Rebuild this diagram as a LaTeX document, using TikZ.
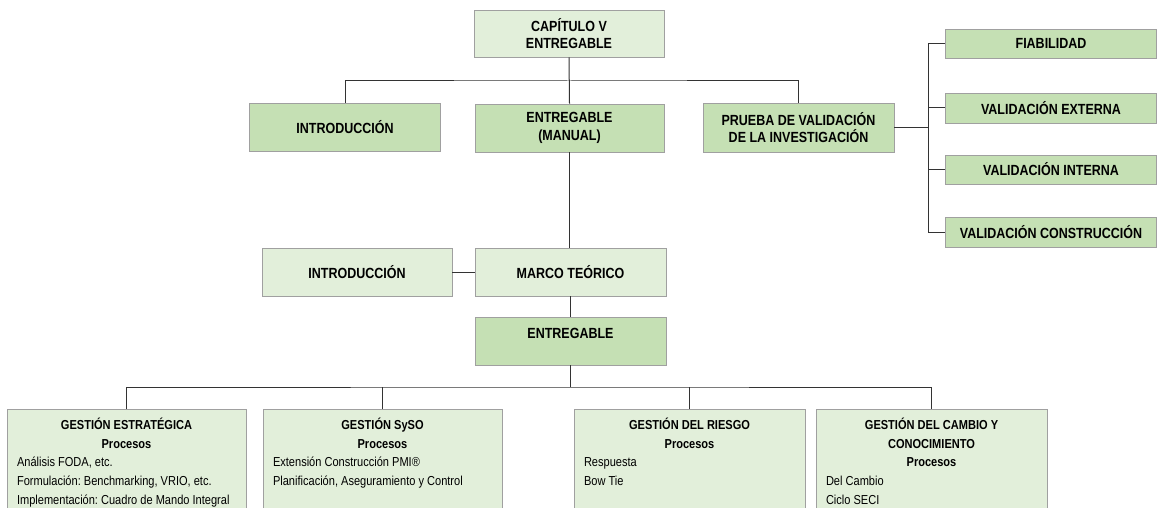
\documentclass[tikz,border=0pt]{standalone}
\usepackage{fontspec}
\setmainfont{Liberation Sans}[FakeStretch=0.85]
\frenchspacing
\definecolor{lightg}{HTML}{E2EFDA}
\definecolor{darkg}{HTML}{C5E0B4}
\definecolor{boxgray}{HTML}{A0A0A0}
\definecolor{linegray}{HTML}{333333}
\newcommand\gcontent[2]{\parbox[t][110pt][t]{#1}{\frenchspacing #2}}
\begin{document}
\begin{tikzpicture}[x=1pt,y=-1pt,
  base/.style={draw=boxgray, line width=0.8pt, inner sep=0pt, align=center,
    font=\bfseries\fontsize{14.7}{17.5}\selectfont},
  light/.style={base, fill=lightg},
  dark/.style={base, fill=darkg},
  conn/.style={draw=linegray, line width=1pt},
  gbox/.style={draw=boxgray, line width=0.8pt, fill=lightg, anchor=north,
    inner xsep=10pt, inner ysep=0pt, font=\fontsize{13}{18.7}\selectfont}
]
\clip (0,0) rectangle (1158,508);
\fill[white] (0,0) rectangle (1158,508);

% top level
\node[light, minimum width=190pt, minimum height=47pt] (cap) at (569,33.5) {CAPÍTULO V\\ENTREGABLE};
\node[dark, minimum width=191pt, minimum height=48pt] (intro1) at (345,127) {INTRODUCCIÓN};
\node[dark, minimum width=189pt, minimum height=48pt] (manual) at (569.5,128) {ENTREGABLE\\(MANUAL)};
\node[dark, minimum width=191pt, minimum height=49pt] (prueba) at (798.5,127.5) {PRUEBA DE VALIDACIÓN\\DE LA INVESTIGACIÓN};

% validation boxes
\node[dark, minimum width=211pt, minimum height=29pt] (fiab) at (1051,43.5) {FIABILIDAD};
\node[dark, minimum width=211pt, minimum height=30pt] (vext) at (1051,108) {VALIDACIÓN EXTERNA};
\node[dark, minimum width=211pt, minimum height=29pt] (vint) at (1051,169.5) {VALIDACIÓN INTERNA};
\node[dark, minimum width=211pt, minimum height=30pt] (vcon) at (1051,232) {VALIDACIÓN CONSTRUCCIÓN};

% middle
\node[light, minimum width=190pt, minimum height=48pt] (intro2) at (357,272) {INTRODUCCIÓN};
\node[light, minimum width=191pt, minimum height=48pt] (marco) at (570.5,272) {MARCO TEÓRICO};
\node[dark, minimum width=191pt, text height=21pt, text depth=27pt, inner ysep=0pt] (entreg) at (570.5,341) {ENTREGABLE};

% bottom boxes
\node[gbox] (g1) at (126.5,409) {\gcontent{219pt}{{\centering\bfseries\rule{0pt}{20pt}GESTIÓN ESTRATÉGICA\\Procesos\par}Análisis FODA, etc.\\Formulación: Benchmarking, VRIO, etc.\\Implementación: Cuadro de Mando Integral}};
\node[gbox] (g2) at (382.5,409) {\gcontent{219pt}{{\centering\bfseries\rule{0pt}{20pt}GESTIÓN SySO\\Procesos\par}Extensión Construcción PMI®\\Planificación, Aseguramiento y Control}};
\node[gbox] (g3) at (689.5,409) {\gcontent{211pt}{{\centering\bfseries\rule{0pt}{20pt}GESTIÓN DEL RIESGO\\Procesos\par}Respuesta\\Bow Tie}};
\node[gbox] (g4) at (931.5,409) {\gcontent{211pt}{{\centering\bfseries\rule{0pt}{20pt}GESTIÓN DEL CAMBIO Y\\CONOCIMIENTO\\Procesos\par}Del Cambio\\Ciclo SECI}};

% connectors
\coordinate (b1) at (569,81);
\coordinate (rb) at (928,127.5);
\coordinate (b2) at (570.5,387);
\draw[conn] (cap.south) -- (manual.north);
\draw[conn] (intro1.north) |- (b1) -| (prueba.north);
\draw[conn] (prueba.east) -- (rb);
\draw[conn] (fiab.west) -| (rb) |- (vcon.west);
\draw[conn] (vext.west) -- (vext.west -| rb);
\draw[conn] (vint.west) -- (vint.west -| rb);
\draw[conn] (manual.south) -- (manual.south |- marco.north);
\draw[conn] (intro2.east) -- (marco.west);
\draw[conn] (marco.south) -- (entreg.north);
\draw[conn] (entreg.south) -- (b2);
\draw[conn] (g1.north) |- (b2) -| (g4.north);
\draw[conn] (g2.north) -- (g2.north |- b2);
\draw[conn] (g3.north) -- (g3.north |- b2);
\end{tikzpicture}
\end{document}
